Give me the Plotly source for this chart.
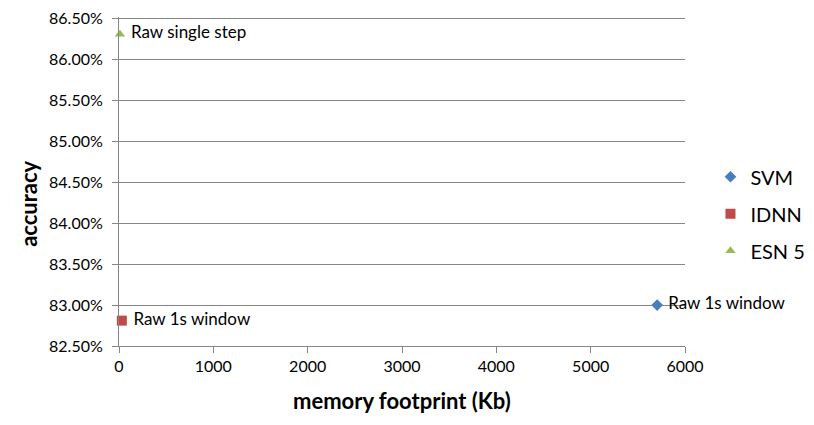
import plotly.graph_objects as go

# memory footprint (Kb) and accuracy (%) per model
svm_x = [5705]
svm_y = [83.00]
svm_labels = ["Raw 1s window"]

idnn_x = [30]
idnn_y = [82.81]
idnn_labels = ["Raw 1s window"]

esn_x = [10]
esn_y = [86.31]
esn_labels = ["Raw single step"]

y_ticks = [82.5, 83.0, 83.5, 84.0, 84.5, 85.0, 85.5, 86.0, 86.5]
y_tick_text = ["%.2f%%" % v for v in y_ticks]

FONT = "Lato, Carlito, Calibri, sans-serif"


def pad(labels):
    return [" " + s for s in labels]


fig = go.Figure()

fig.add_trace(go.Scatter(
    x=svm_x, y=svm_y, text=pad(svm_labels), name="SVM", legendgroup="svm",
    mode="markers+text", textposition="middle right",
    marker=dict(symbol="diamond", size=9, color="#4a7ebb"),
    textfont=dict(size=17, color="#000000", family=FONT),
    cliponaxis=False
))
fig.add_trace(go.Scatter(
    x=idnn_x, y=idnn_y, text=pad(idnn_labels), name="IDNN", legendgroup="idnn",
    mode="markers+text", textposition="middle right",
    marker=dict(symbol="square", size=10, color="#be4b48"),
    textfont=dict(size=17, color="#000000", family=FONT),
    cliponaxis=False
))
fig.add_trace(go.Scatter(
    x=esn_x, y=esn_y, text=pad(esn_labels), name="ESN 5", legendgroup="esn",
    mode="markers+text", textposition="middle right",
    marker=dict(symbol="triangle-up", size=9, color="#98b954"),
    textfont=dict(size=17, color="#000000", family=FONT),
    cliponaxis=False
))

fig.update_layout(
    width=814,
    height=425,
    autosize=False,
    paper_bgcolor="white",
    plot_bgcolor="white",
    margin=dict(l=111, r=137, t=9, b=87),
    font=dict(family=FONT, size=16, color="#000000"),
    xaxis=dict(
        range=[0, 6000],
        dtick=1000,
        showgrid=False,
        zeroline=False,
        showline=True,
        linecolor="#868686",
        ticks="outside",
        ticklen=6,
        tickcolor="#868686",
        tickfont=dict(size=16),
        automargin=False
    ),
    yaxis=dict(
        range=[82.5, 86.52],
        tickvals=y_ticks,
        ticktext=y_tick_text,
        showgrid=True,
        gridcolor="#868686",
        zeroline=False,
        showline=True,
        linecolor="#868686",
        ticks="outside",
        ticklen=6,
        tickcolor="#868686",
        tickfont=dict(size=16),
        ticklabelstandoff=6,
        ticklabeloverflow="allow",
        automargin=False
    ),
    legend=dict(
        x=1.045, y=0.402, xanchor="left", yanchor="middle",
        font=dict(size=20),
        tracegroupgap=8
    ),
    showlegend=True,
    annotations=[
        dict(text="<b>memory footprint (Kb)</b>", xref="paper", yref="paper",
             x=0.5, y=0, xanchor="center", yanchor="middle", yshift=-54,
             showarrow=False, font=dict(size=22)),
        dict(text="<b>accuracy</b>", xref="paper", yref="paper",
             x=0, y=0.432, xanchor="center", yanchor="middle", xshift=-90,
             textangle=-90, showarrow=False, font=dict(size=22)),
    ]
)

fig.write_html("out.html")
